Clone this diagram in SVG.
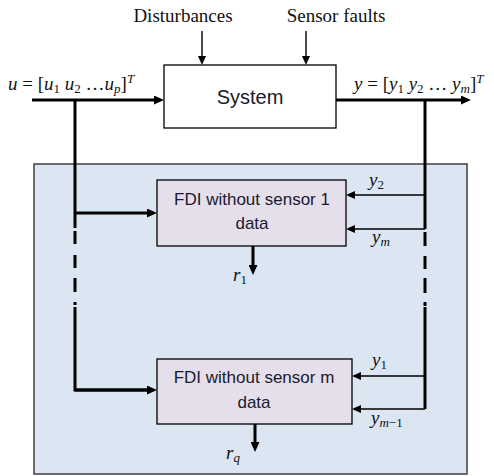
<svg xmlns="http://www.w3.org/2000/svg" width="494" height="476" viewBox="0 0 494 476">
<style>
.thick{stroke:#000;stroke-width:3;fill:none}
.thin{stroke:#000;stroke-width:1.4;fill:none}
.lbl{font-family:"Liberation Serif",serif;font-size:19px;fill:#111}
.math{font-family:"Liberation Serif",serif;font-size:19px;fill:#111}
.it{font-style:italic}
.sub{font-size:13px}
.box{font-family:"Liberation Sans",Arial,sans-serif;font-size:17px;fill:#1a1a2e;text-anchor:middle}
</style>
<defs>
<marker id="ah" markerUnits="userSpaceOnUse" markerWidth="10" markerHeight="9" viewBox="0 0 10 9" refX="3" refY="4.5" orient="auto"><path d="M0,0 L10,4.5 L0,9 z" fill="#000"/></marker>
<marker id="as" markerUnits="userSpaceOnUse" markerWidth="9" markerHeight="8" viewBox="0 0 9 8" refX="2" refY="4" orient="auto"><path d="M0,0 L9,4 L0,8 z" fill="#000"/></marker>
</defs>
<rect id="bg" x="0" y="0" width="494" height="476" fill="#fff"/>
<g id="fdi-bank"><rect x="34" y="164" width="433" height="310" fill="#dce6f2" stroke="#404040" stroke-width="1.5"/></g>
<g id="system"><rect x="164" y="65" width="172" height="63" fill="#fff" stroke="#000" stroke-width="1.3"/><text x="250" y="104" font-family="Liberation Sans,Arial,sans-serif" font-size="20" text-anchor="middle" fill="#1a1a2e">System</text></g>
<g id="fdi1"><rect x="157" y="180" width="189" height="66" fill="#e5dfec" stroke="#000" stroke-width="1.3"/><text class="box" x="252" y="205">FDI without sensor 1</text><text class="box" x="252" y="229">data</text></g>
<g id="fdim"><rect x="157" y="359" width="195" height="65" fill="#e5dfec" stroke="#000" stroke-width="1.3"/><text class="box" x="254" y="383">FDI without sensor m</text><text class="box" x="254" y="408">data</text></g>
<g id="connectors">
<line class="thin" x1="202" y1="31" x2="202" y2="58" marker-end="url(#as)"/>
<line class="thin" x1="306" y1="31" x2="306" y2="58" marker-end="url(#as)"/>
<line class="thick" x1="32" y1="100" x2="157" y2="100" marker-end="url(#ah)"/>
<line class="thick" x1="336" y1="100" x2="464" y2="100" marker-end="url(#ah)"/>
<path class="thick" d="M75,100 V228 M75,231 V244 M75,255 V268 M75,278 V292 M75,302 V305 M75,307 V390 H150"/>
<line class="thick" x1="75" y1="213" x2="150" y2="213" marker-end="url(#ah)"/>
<path class="thick" d="M75,390 H150" marker-end="url(#ah)"/>
<path class="thick" d="M425,100 V229 M425,232 V246 M425,256 V269 M425,278 V293 M425,302 V306 M425,307 V409"/>
<path class="thin" d="M425,195 H353" marker-end="url(#as)"/>
<path class="thin" d="M425,229 H353" marker-end="url(#as)"/>
<path class="thin" d="M425,376 H359" marker-end="url(#as)"/>
<path class="thin" d="M425,409 H359" marker-end="url(#as)"/>
<line class="thick" x1="253" y1="246" x2="253" y2="268" marker-end="url(#ah)"/>
<line class="thick" x1="255" y1="424" x2="255" y2="445" marker-end="url(#ah)"/>
</g>
<g id="labels">
<text class="lbl" x="183" y="22" text-anchor="middle">Disturbances</text>
<text class="lbl" x="336" y="22" text-anchor="middle">Sensor faults</text>
<text class="math" x="8" y="90"><tspan class="it">u</tspan> = [<tspan class="it">u</tspan><tspan class="sub" dy="3">1</tspan><tspan dy="-3"> </tspan><tspan class="it">u</tspan><tspan class="sub" dy="3">2</tspan><tspan dy="-3"> …</tspan><tspan class="it">u</tspan><tspan class="it sub" dy="3">p</tspan><tspan dy="-3">]</tspan><tspan class="it sub" dy="-7">T</tspan></text>
<text class="math" x="354" y="90"><tspan class="it">y</tspan> = [<tspan class="it">y</tspan><tspan class="sub" dy="3">1</tspan><tspan dy="-3"> </tspan><tspan class="it">y</tspan><tspan class="sub" dy="3">2</tspan><tspan dy="-3"> … </tspan><tspan class="it">y</tspan><tspan class="it sub" dy="3">m</tspan><tspan dy="-3">]</tspan><tspan class="it sub" dy="-7">T</tspan></text>
<text class="math" x="369" y="186"><tspan class="it">y</tspan><tspan class="sub" dy="3">2</tspan></text>
<text class="math" x="372" y="243"><tspan class="it">y</tspan><tspan class="it sub" dy="3">m</tspan></text>
<text class="math" x="372" y="366"><tspan class="it">y</tspan><tspan class="sub" dy="3">1</tspan></text>
<text class="math" x="371" y="424"><tspan class="it">y</tspan><tspan class="it sub" dy="3">m</tspan><tspan class="sub">−1</tspan></text>
<text class="math" x="233" y="281"><tspan class="it">r</tspan><tspan class="sub" dy="3">1</tspan></text>
<text class="math" x="226" y="459"><tspan class="it">r</tspan><tspan class="it sub" dy="3">q</tspan></text>
</g>
</svg>
